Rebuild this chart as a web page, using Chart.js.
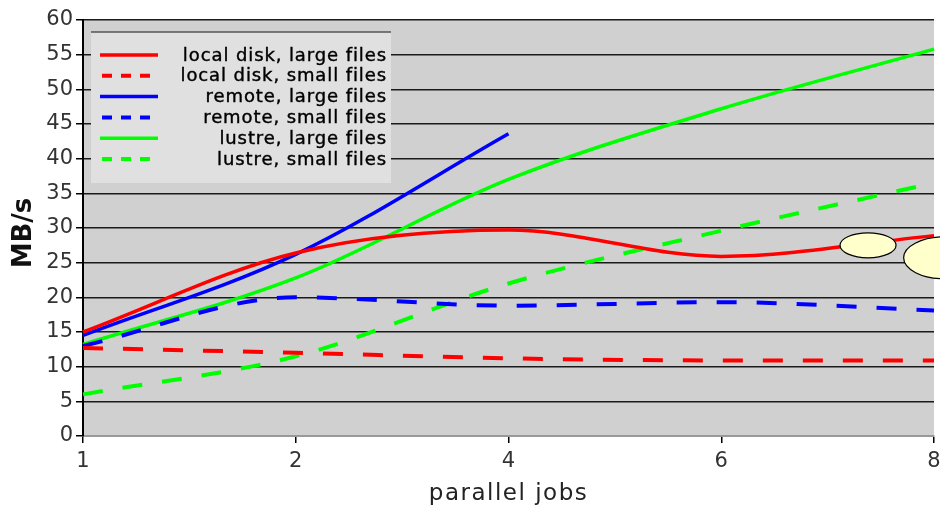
<!DOCTYPE html>
<html>
<head>
<meta charset="utf-8">
<script src="https://cdn.jsdelivr.net/npm/chart.js@4/dist/chart.umd.min.js"></script>
<style>
html,body{margin:0;padding:0;background:#fff;}
canvas{display:block;}
</style>
</head>
<body>
<canvas id="c" width="940" height="509"></canvas>
<script>
// ---- data ----
const jobs = ['1', '2', '4', '6', '8'];
const yTicks = [0, 5, 10, 15, 20, 25, 30, 35, 40, 45, 50, 55, 60];
const localLarge  = [15.0, 26.4, 29.7, 25.9, 28.9];
const localSmall  = [12.7, 12.0, 11.2, 10.9, 10.9];
const remoteLarge = [14.5, 26.2, 43.6, null, null];
const remoteSmall = [13.0, 20.0, 18.8, 19.3, 18.1];
const lustreLarge = [13.2, 22.8, 37.0, 47.2, 55.8];
const lustreSmall = [6.0, 11.5, 22.0, 29.6, 36.5];
const seriesNames = ['local disk, large files', 'local disk, small files', 'remote, large files',
                     'remote, small files', 'lustre, large files', 'lustre, small files'];
const xTitle = 'parallel jobs';
const yTitle = 'MB/s';
// decorative callout ellipses: [category index, value, rx, ry]
const callouts = [[3.69, 27.5, 28, 12.5], [4.05, 25.7, 41, 21]];

const RED = '#ff0000', BLUE = '#0000ff', GREEN = '#00ff00';

function ds(label, data, color, dashed) {
  return {
    label, data, borderColor: color, backgroundColor: color,
    borderWidth: dashed ? 4 : 3.5, borderDash: dashed ? [20, 20] : [],
    pointRadius: 0, cubicInterpolationMode: 'monotone', fill: false, spanGaps: false
  };
}

const bgPlugin = {
  id: 'bg',
  beforeDraw(chart) {
    const {ctx, chartArea: a} = chart;
    ctx.save();
    ctx.fillStyle = '#d0d0d0';
    ctx.fillRect(a.left, a.top, a.right - a.left, a.bottom - a.top);
    ctx.restore();
  }
};

const calloutPlugin = {
  id: 'callouts',
  afterDatasetsDraw(chart) {
    const {ctx, scales: {x, y}} = chart;
    ctx.save();
    callouts.forEach(([ix, v, rx, ry]) => {
      ctx.beginPath();
      ctx.ellipse(x.getPixelForValue(ix), y.getPixelForValue(v), rx, ry, 0, 0, Math.PI * 2);
      ctx.fillStyle = '#ffffcc';
      ctx.fill();
      ctx.lineWidth = 1.2;
      ctx.strokeStyle = '#000';
      ctx.stroke();
    });
    ctx.restore();
  }
};

const legendPlugin = {
  id: 'boxLegend',
  afterDatasetsDraw(chart) {
    const {ctx, chartArea: a} = chart;
    const left = a.left + 8, top = a.top + 12, w = 300, h = 151;
    ctx.save();
    ctx.fillStyle = '#e0e0e0';
    ctx.fillRect(left, top, w, h);
    ctx.strokeStyle = '#555';
    ctx.lineWidth = 1.5;
    ctx.beginPath(); ctx.moveTo(left, top); ctx.lineTo(left + w, top); ctx.stroke();
    ctx.font = '18px "DejaVu Sans"';
    ctx.letterSpacing = '0.9px';
    ctx.textAlign = 'right';
    ctx.textBaseline = 'middle';
    chart.data.datasets.forEach((d, i) => {
      const yy = top + 23 + i * 20.8;
      const dashed = d.borderDash.length > 0;
      ctx.strokeStyle = d.borderColor;
      ctx.lineWidth = dashed ? 4 : 3.5;
      ctx.setLineDash(dashed ? [10, 9] : []);
      ctx.beginPath();
      ctx.moveTo(left + (dashed ? 11 : 9), yy);
      ctx.lineTo(left + (dashed ? 60 : 67), yy);
      ctx.stroke();
      ctx.setLineDash([]);
      ctx.fillStyle = '#000';
      ctx.strokeStyle = '#000';
      ctx.lineWidth = 0.4;
      ctx.fillText(d.label, left + w - 4, yy + 1);
      ctx.strokeText(d.label, left + w - 4, yy + 1);
    });
    ctx.restore();
  }
};

const titlePlugin = {
  id: 'axisTitles',
  afterDraw(chart) {
    const {ctx, chartArea: a} = chart;
    ctx.save();
    ctx.textAlign = 'center';
    ctx.textBaseline = 'middle';
    ctx.fillStyle = '#222';
    ctx.font = '23px "DejaVu Sans"';
    ctx.letterSpacing = '1.5px';
    ctx.fillText(xTitle, (a.left + a.right) / 2, 494);
    ctx.translate(24, (a.top + a.bottom) / 2 + 5);
    ctx.rotate(-Math.PI / 2);
    ctx.fillStyle = '#111';
    ctx.letterSpacing = '0px';
    ctx.font = 'bold 26px "DejaVu Sans"';
    ctx.fillText(yTitle, 0, 0);
    ctx.restore();
  }
};

new Chart(document.getElementById('c'), {
  type: 'line',
  data: {
    labels: jobs,
    datasets: [
      ds(seriesNames[0], localLarge, RED, false),
      ds(seriesNames[1], localSmall, RED, true),
      ds(seriesNames[2], remoteLarge, BLUE, false),
      ds(seriesNames[3], remoteSmall, BLUE, true),
      ds(seriesNames[4], lustreLarge, GREEN, false),
      ds(seriesNames[5], lustreSmall, GREEN, true)
    ]
  },
  options: {
    responsive: false,
    animation: false,
    layout: {padding: {left: 0, right: 6, top: 20, bottom: 0}},
    plugins: {legend: {display: false}, tooltip: {enabled: false}},
    scales: {
      x: {
        type: 'category',
        offset: false,
        grid: {drawOnChartArea: false, drawTicks: true, tickLength: 7, color: '#000', lineWidth: 1.5},
        border: {color: '#999', width: 2},
        ticks: {color: '#333', font: {family: 'DejaVu Sans', size: 21}, padding: 6, maxRotation: 0},
        afterFit(s) { s.height = 73; s.paddingRight = 0; s.paddingLeft = 0; }
      },
      y: {
        min: 0, max: 60,
        afterBuildTicks(s) { s.ticks = yTicks.map(v => ({value: v})); },
        grid: {color: '#1a1a1a', lineWidth: 1.5, drawTicks: true, tickLength: 7, tickColor: '#000'},
        border: {color: '#000', width: 2},
        ticks: {color: '#333', font: {family: 'DejaVu Sans', size: 21}, padding: 3},
        afterFit(s) { s.width = 83; }
      }
    }
  },
  plugins: [bgPlugin, calloutPlugin, legendPlugin, titlePlugin]
});
</script>
</body>
</html>
